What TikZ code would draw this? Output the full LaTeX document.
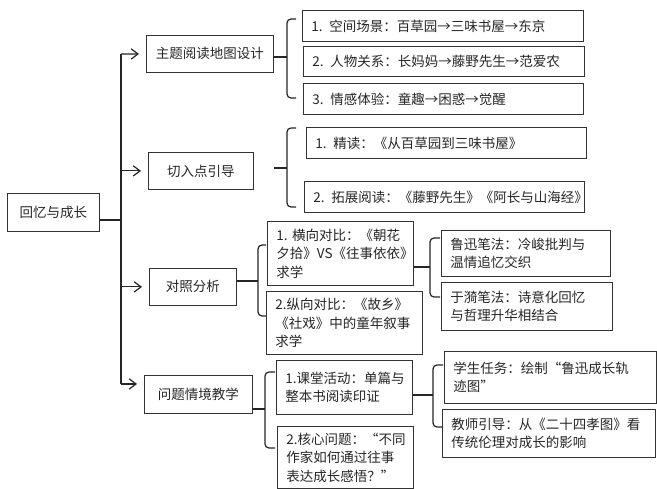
\documentclass[tikz,border=0pt]{standalone}
\usepackage{fontspec}
\setmainfont{Noto Sans CJK SC}
\usetikzlibrary{arrows.meta,positioning}

\begin{document}
\begin{tikzpicture}[
  x=1pt, y=-1pt,
  font=\fontsize{13.5}{18.5}\selectfont,
  box/.style={
     rectangle, draw=black!80, line width=0.8pt,
     anchor=north west, inner sep=0pt, align=center,
     text=black!85},
  leaf/.style={box, align=left, inner xsep=9pt},
  link/.style={line width=1.2pt, draw=black!85},
  arrow/.style={link, -{Straight Barb[length=2.4mm,width=3.6mm]}, shorten >=7pt},
  brace/.style={link, rounded corners=4pt}]
\useasboundingbox[fill=white] (0,0) rectangle (657,489);
% root and first level
\node[box, minimum width=92pt, minimum height=38pt] (root) at (7,193) {回忆与成长};
\node[box, minimum width=127pt, minimum height=37pt] (map) at (146,35) {主题阅读地图设计};
\node[box, minimum width=105pt, minimum height=37pt] (entry) at (148,152) {切入点引导};
\node[box, minimum width=87pt, minimum height=37pt] (contrast) at (149,268) {对照分析};
\node[box, minimum width=108pt, minimum height=38pt] (problem) at (144,375) {问题情境教学};
% trunk
\coordinate (tmid) at (121,220);
\coordinate (ttop) at (121,54);
\coordinate (tbot) at (121,384);
\draw[link] (root.east |- tmid) -- (tmid);
\draw[link] (ttop) -- (tbot);
\draw[arrow] (ttop) -- (map.west);
\draw[arrow] (ttop |- entry.west) -- (entry.west);
\draw[arrow] (ttop |- contrast.west) -- (contrast.west);
\draw[arrow] (tbot) -- (problem.west |- tbot);
% reading map
\node[leaf, text width=263pt, minimum height=31pt] (space) at (302,10) {1. 空间场景：百草园→三味书屋→东京};
\node[leaf, text width=263pt, minimum height=30pt] (people) at (303,46) {2. 人物关系：长妈妈→藤野先生→范爱农};
\node[leaf, text width=262pt, minimum height=31pt] (feel) at (303,83) {3. 情感体验：童趣→困惑→觉醒};
\coordinate (k1) at (287,57);
\draw[link] (map.east |- k1) -- (k1);
\draw[brace] (296,19) -- (287,19) -- (287,98) -- (296,98);
% entry point
\node[leaf, text width=262pt, minimum height=31pt] (close) at (306,127) {1. 精读：《从百草园到三味书屋》};
\node[leaf, text width=262pt, minimum height=31pt] (wide) at (304,181) {2. 拓展阅读：《藤野先生》《阿长与山海经》};
\coordinate (k2) at (287,168);
\draw[link] (274,168) -- (k2);
\draw[brace] (296,128) -- (287,128) -- (287,207) -- (296,207);
% contrast
\node[leaf, text width=128pt, minimum height=64pt] (horiz) at (267,221) {\mbox{1.~横向对比：《朝花}\\夕拾》VS《往事依依》\\求学};
\node[leaf, text width=138pt, minimum height=63pt] (vert) at (266,291) {2.纵向对比：《故乡》\\《社戏》中的童年叙事\\求学};
\coordinate (k3) at (258,281);
\draw[link] (contrast.east |- k3) -- (k3);
\draw[brace] (266,245) -- (258,245) -- (258,316) -- (266,316);
\node[leaf, text width=151pt, minimum height=46pt] (luxun) at (441,230) {鲁迅笔法：冷峻批判与\\温情追忆交织};
\node[leaf, text width=153pt, minimum height=48pt] (yuyi) at (441,282) {于漪笔法：诗意化回忆\\与哲理升华相结合};
\coordinate (k4) at (430,267);
\draw[link] (horiz.east |- k4) -- (k4);
\draw[brace] (440,238) -- (430,238) -- (430,297) -- (440,297);
% problem situation
\node[leaf, text width=118pt, minimum height=54pt] (class) at (276,360) {1.课堂活动：单篇与\\整本书阅读印证};
\node[leaf, text width=118pt, minimum height=62pt] (core) at (277,426) {2.核心问题：“不同\\作家如何通过往事\\表达成长感悟？”};
\coordinate (k5) at (265,409);
\draw[link] (problem.east |- k5) -- (k5);
\draw[brace] (275,372) -- (265,372) -- (265,448) -- (275,448);
\node[leaf, text width=194pt, minimum height=52pt] (task) at (444,351) {学生任务：绘制“鲁迅成长轨\\迹图”};
\node[leaf, text width=195pt, minimum height=48pt] (guide) at (442,409) {教师引导：从《二十四孝图》看\\传统伦理对成长的影响};
\coordinate (k6) at (433,395);
\draw[link] (class.east |- k6) -- (k6);
\draw[brace] (443,365) -- (433,365) -- (433,427) -- (443,427);
\end{tikzpicture}
\end{document}
